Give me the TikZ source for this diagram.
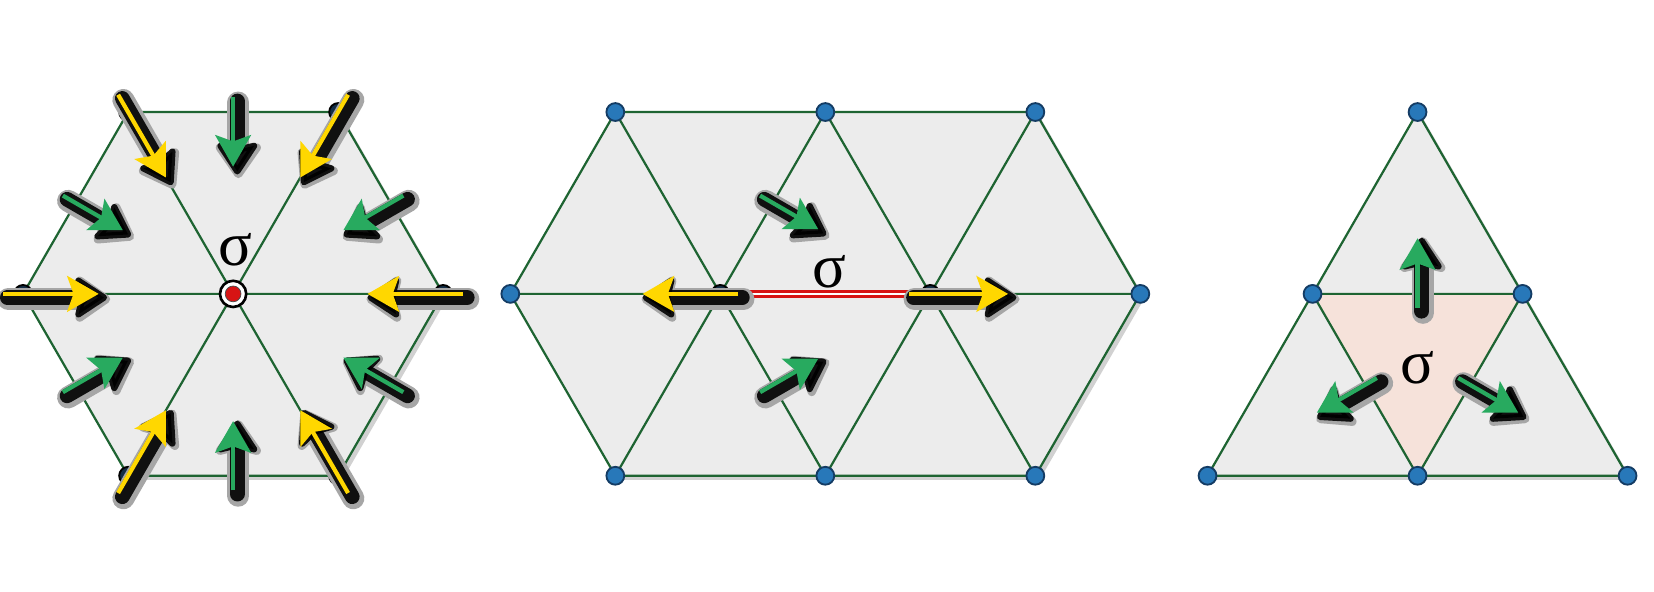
\documentclass[tikz,border=0pt]{standalone}
\usepackage{fontspec}
\usetikzlibrary{calc,arrows.meta}
\newfontfamily\sigmafont{Liberation Serif}
\definecolor{edgegreen}{RGB}{30,100,50}
\definecolor{arrowgreen}{RGB}{40,170,95}
\definecolor{arrowyellow}{RGB}{255,215,0}
\definecolor{dotblue}{RGB}{40,120,185}
\definecolor{dotrim}{RGB}{20,60,100}
\definecolor{dotnavy}{RGB}{18,45,70}
\definecolor{cellgray}{RGB}{236,236,236}
\definecolor{cellpink}{RGB}{246,226,218}
\definecolor{sigmared}{RGB}{215,20,20}
\newcommand{\shadedarrow}[3]{%
  \draw[arrowhalo] #2 -- #3;
  \draw[arrowshadow] #2 -- #3;
  \draw[#1] #2 -- #3;}

\begin{document}
\begin{tikzpicture}[
  cell/.style={fill=cellgray, draw=edgegreen, line width=0.6pt, line join=round},
  sigmacell/.style={cell, fill=cellpink},
  edgeline/.style={draw=edgegreen, line width=0.6pt},
  panelshadow/.style={fill=black!18, transform canvas={shift={(0.04,-0.04)}}},
  vertex/.style={circle, fill=dotblue, draw=dotrim, line width=0.5pt, inner sep=0pt, minimum size=0.17cm},
  darkvertex/.style={vertex, fill=dotnavy, draw=black},
  arrowhalo/.style={draw=black!35, line width=0.21cm, line cap=round, shorten >=-0.06cm,
    transform canvas={shift={(0.05,-0.05)}},
    -{Stealth[length=0.38cm,width=0.52cm,inset=0.06cm,round,line width=0.08cm]}},
  arrowshadow/.style={draw=black, draw opacity=0.9, fill opacity=0.9, line width=0.14cm, line cap=round,
    shorten >=-0.04cm, transform canvas={shift={(0.04,-0.035)}},
    -{Stealth[length=0.34cm,width=0.44cm,inset=0.05cm,round,line width=0.06cm]}},
  colorarrow/.style={line width=0.04cm, -{Stealth[length=0.3cm,width=0.34cm,inset=0.06cm]}},
  greenarrow/.style={colorarrow, draw=arrowgreen},
  yellowarrow/.style={colorarrow, draw=arrowyellow},
  sigmaedge/.style={draw=sigmared, line width=0.026cm, double=white, double distance=0.02cm},
  sigmalabel/.style={font=\sigmafont\fontsize{17}{20}\selectfont, inner sep=0pt}
]
\useasboundingbox (0,0) rectangle (15.752,5.629);

\coordinate (c0) at (2.22,2.83);
\coordinate (a1) at ($(c0)+(0:2)$);
\coordinate (a2) at ($(c0)+(60:2)$);
\coordinate (a3) at ($(c0)+(120:2)$);
\coordinate (a4) at ($(c0)+(180:2)$);
\coordinate (a5) at ($(c0)+(240:2)$);
\coordinate (a6) at ($(c0)+(300:2)$);
\coordinate (e1) at ($(a1)!0.5!(a2)$);
\coordinate (e2) at ($(a2)!0.5!(a3)$);
\coordinate (e3) at ($(a3)!0.5!(a4)$);
\coordinate (e4) at ($(a4)!0.5!(a5)$);
\coordinate (e5) at ($(a5)!0.5!(a6)$);
\coordinate (e6) at ($(a6)!0.5!(a1)$);

\coordinate (b1) at (4.86,2.83);
\coordinate (b2) at (6.86,2.83);
\coordinate (b3) at (8.86,2.83);
\coordinate (b4) at (10.86,2.83);
\coordinate (t1) at (5.86,4.562);
\coordinate (t2) at (7.86,4.562);
\coordinate (t3) at (9.86,4.562);
\coordinate (d1) at (5.86,1.098);
\coordinate (d2) at (7.86,1.098);
\coordinate (d3) at (9.86,1.098);
\coordinate (eu) at ($(b2)!0.5!(t2)$);
\coordinate (el) at ($(b2)!0.5!(d2)$);
\coordinate (gu) at ($(b2)!0.5!(b3)+(0,0.577)$);
\coordinate (gl) at ($(b2)!0.5!(b3)+(0,-0.577)$);

\coordinate (q1) at (11.5,1.098);
\coordinate (q2) at (13.5,1.098);
\coordinate (q3) at (15.5,1.098);
\coordinate (q4) at (12.5,2.83);
\coordinate (q5) at (14.5,2.83);
\coordinate (q6) at (13.5,4.562);
\coordinate (s0) at ($(q2)+(0,1.155)$);
\coordinate (f1) at ($(q4)!0.5!(q5)$);
\coordinate (f2) at ($(q4)!0.5!(q2)$);
\coordinate (f3) at ($(q5)!0.5!(q2)$);

\fill[panelshadow] (a1) -- (a2) -- (a3) -- (a4) -- (a5) -- (a6) -- cycle;
\fill[panelshadow] (b1) -- (t1) -- (t3) -- (b4) -- (d3) -- (d1) -- cycle;
\fill[panelshadow] (q1) -- (q6) -- (q3) -- cycle;

\draw[cell] (a1) -- (a2) -- (a3) -- (a4) -- (a5) -- (a6) -- cycle;
\draw[edgeline] (a1) -- (a4) (a2) -- (a5) (a3) -- (a6);

\draw[cell] (b1) -- (t1) -- (t3) -- (b4) -- (d3) -- (d1) -- cycle;
\draw[edgeline] (b1) -- (b4) (t1) -- (b2) -- (t2) -- (b3) -- (t3) (d1) -- (b2) -- (d2) -- (b3) -- (d3);
\draw[sigmaedge] (b2) -- (b3);

\draw[cell] (q1) -- (q6) -- (q3) -- cycle;
\draw[sigmacell] (q4) -- (q5) -- (q2) -- cycle;

\node[darkvertex] (v1) at (a1) {};
\node[darkvertex] (v2) at (a2) {};
\node[darkvertex] (v3) at (a3) {};
\node[darkvertex] (v4) at (a4) {};
\node[darkvertex] (v5) at (a5) {};
\node[darkvertex] (v6) at (a6) {};
\node[circle, draw=black, fill=white, line width=0.025cm, minimum size=0.25cm, inner sep=0pt] (ring) at (c0) {};
\node[circle, draw=black!70, fill=sigmared, line width=0.2pt, minimum size=0.15cm, inner sep=0pt] (core) at (c0) {};

\node[vertex] (w1) at (b1) {};
\node[darkvertex] (w2) at (b2) {};
\node[darkvertex] (w3) at (b3) {};
\node[vertex] (w4) at (b4) {};
\node[vertex] (w5) at (t1) {};
\node[vertex] (w6) at (t2) {};
\node[vertex] (w7) at (t3) {};
\node[vertex] (w8) at (d1) {};
\node[vertex] (w9) at (d2) {};
\node[vertex] (w10) at (d3) {};

\node[vertex] (u1) at (q1) {};
\node[vertex] (u2) at (q2) {};
\node[vertex] (u3) at (q3) {};
\node[vertex] (u4) at (q4) {};
\node[vertex] (u5) at (q5) {};
\node[vertex] (u6) at (q6) {};

\shadedarrow{greenarrow}{($(e1)!-0.14cm!(c0)$)}{($(e1)!0.52cm!(c0)$)}
\shadedarrow{greenarrow}{($(e2)!-0.14cm!(c0)$)}{($(e2)!0.52cm!(c0)$)}
\shadedarrow{greenarrow}{($(e3)!-0.14cm!(c0)$)}{($(e3)!0.52cm!(c0)$)}
\shadedarrow{greenarrow}{($(e4)!-0.14cm!(c0)$)}{($(e4)!0.52cm!(c0)$)}
\shadedarrow{greenarrow}{($(e5)!-0.14cm!(c0)$)}{($(e5)!0.52cm!(c0)$)}
\shadedarrow{greenarrow}{($(e6)!-0.14cm!(c0)$)}{($(e6)!0.52cm!(c0)$)}
\shadedarrow{yellowarrow}{($(a1)!-0.19cm!(c0)$)}{($(a1)!0.72cm!(c0)$)}
\shadedarrow{yellowarrow}{($(a2)!-0.19cm!(c0)$)}{($(a2)!0.72cm!(c0)$)}
\shadedarrow{yellowarrow}{($(a3)!-0.19cm!(c0)$)}{($(a3)!0.72cm!(c0)$)}
\shadedarrow{yellowarrow}{($(a4)!-0.19cm!(c0)$)}{($(a4)!0.72cm!(c0)$)}
\shadedarrow{yellowarrow}{($(a5)!-0.19cm!(c0)$)}{($(a5)!0.72cm!(c0)$)}
\shadedarrow{yellowarrow}{($(a6)!-0.19cm!(c0)$)}{($(a6)!0.72cm!(c0)$)}

\shadedarrow{greenarrow}{($(eu)!-0.14cm!(gu)$)}{($(eu)!0.5cm!(gu)$)}
\shadedarrow{greenarrow}{($(el)!-0.14cm!(gl)$)}{($(el)!0.5cm!(gl)$)}
\shadedarrow{yellowarrow}{($(b2)!0.17cm!(b3)$)}{($(b2)!-0.74cm!(b3)$)}
\shadedarrow{yellowarrow}{($(b3)!0.2cm!(b2)$)}{($(b3)!-0.74cm!(b2)$)}

\shadedarrow{greenarrow}{($(f1)!0.13cm!(s0)$)}{($(f1)!-0.53cm!(s0)$)}
\shadedarrow{greenarrow}{($(f2)!0.13cm!(s0)$)}{($(f2)!-0.53cm!(s0)$)}
\shadedarrow{greenarrow}{($(f3)!0.13cm!(s0)$)}{($(f3)!-0.53cm!(s0)$)}

\node[sigmalabel] (sig1) at (2.24,3.25) {σ};
\node[sigmalabel] (sig2) at (7.90,3.04) {σ};
\node[sigmalabel] (sig3) at (13.50,2.13) {σ};
\end{tikzpicture}
\end{document}
